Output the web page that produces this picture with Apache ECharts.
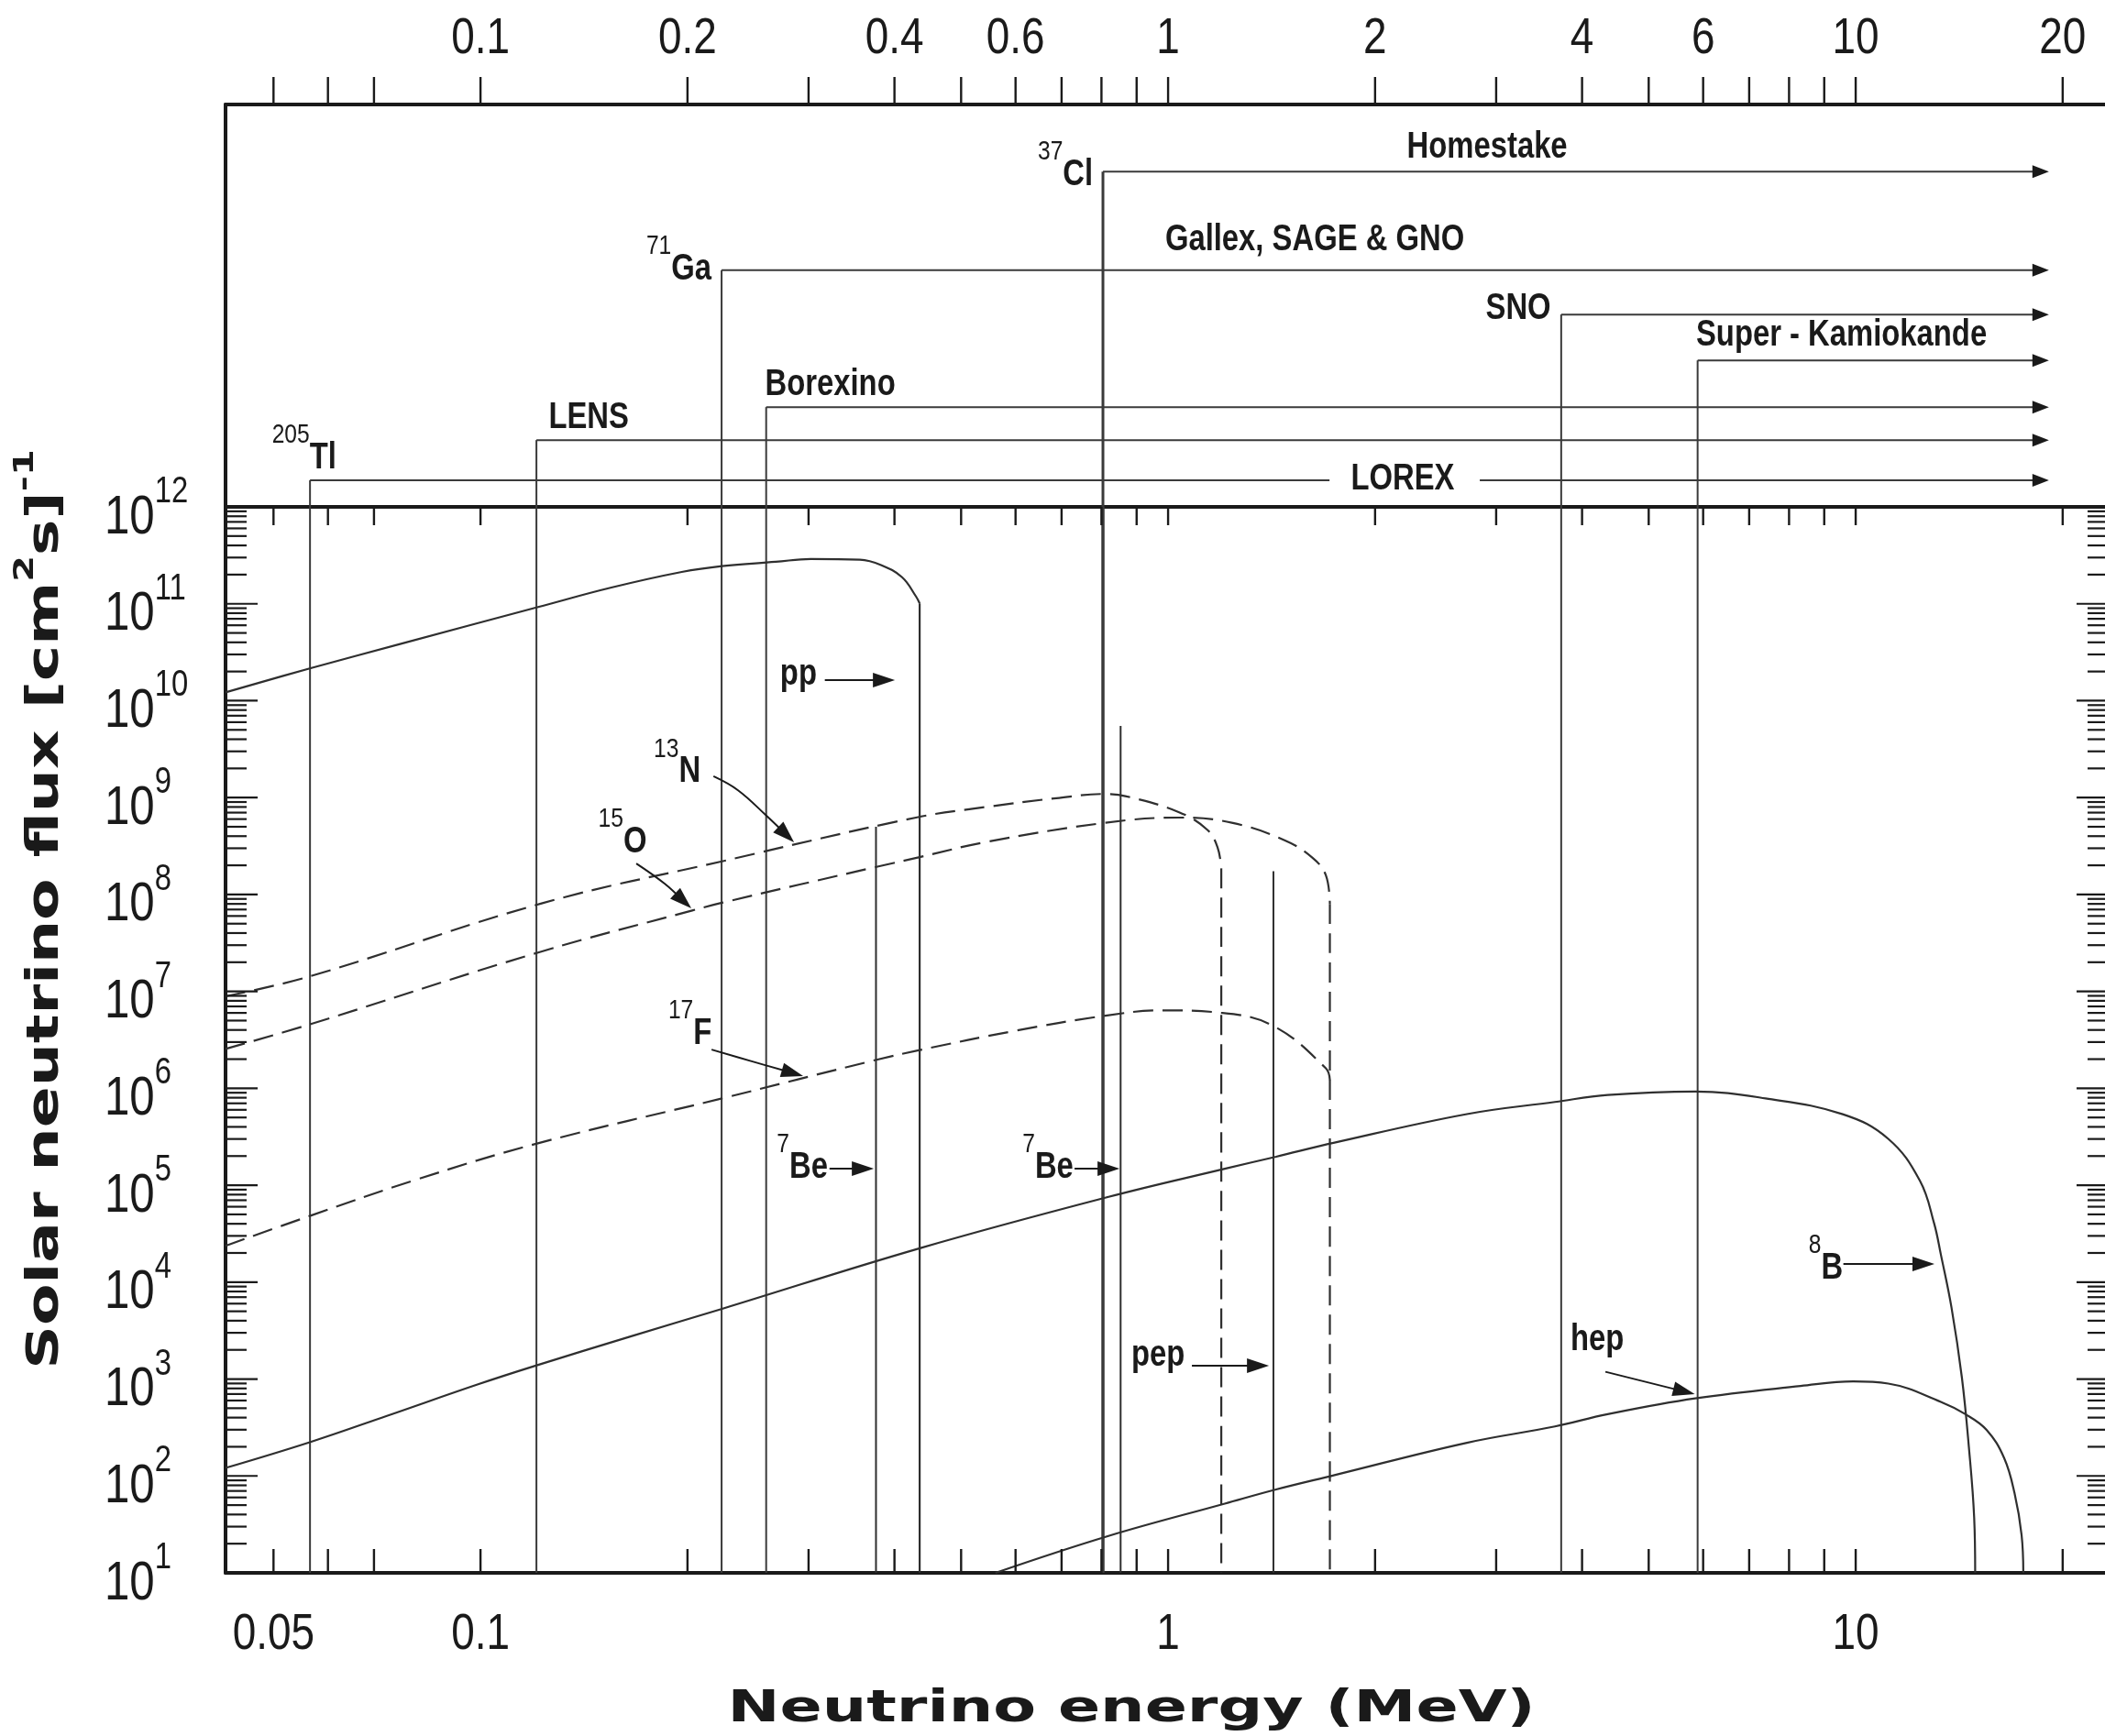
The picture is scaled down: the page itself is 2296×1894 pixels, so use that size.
<!DOCTYPE html>
<html>
<head>
<meta charset="utf-8">
<title>Solar neutrino spectrum and detector thresholds</title>
<script src="https://cdn.jsdelivr.net/npm/echarts@6.0.0/dist/echarts.min.js"></script>
<style>
  html, body { margin: 0; padding: 0; background: #ffffff; }
  #chart { width: 2296px; height: 1894px; }
</style>
</head>
<body>
<div id="chart"></div>
<script>
// ---------- axis ranges ----------
const energyRange = [0.04258, 23.33];   // neutrino energy, MeV (log)
const fluxRange = [10, 1e12];           // flux, (cm^2 s)^-1 (log)
const panelRange = [0, 100];            // detector panel rows

// ---------- ticks and tick labels ----------
const energyTicks = [0.05, 0.06, 0.07, 0.1, 0.2, 0.3, 0.4, 0.5, 0.6, 0.7, 0.8, 0.9,
                     1, 2, 3, 4, 5, 6, 7, 8, 9, 10, 20];
const topEnergyLabels = [0.1, 0.2, 0.4, 0.6, 1, 2, 4, 6, 10, 20];
const bottomEnergyLabels = [0.05, 0.1, 1, 10];
const fluxDecades = [1e1, 1e2, 1e3, 1e4, 1e5, 1e6, 1e7, 1e8, 1e9, 1e10, 1e11, 1e12];
const minorFactors = [2, 3, 4, 5, 6, 7, 8, 9];

// ---------- continuum spectra, [E (MeV), flux] ----------
const ppSpectrum = [[0.04258, 1.22e10], [0.05646, 2.15e10], [0.07661, 3.87e10], [0.1213, 9.25e10],
  [0.155, 1.47e11], [0.1962, 2.13e11], [0.2245, 2.45e11], [0.2688, 2.71e11], [0.3022, 2.9e11],
  [0.3562, 2.85e11], [0.3824, 2.51e11], [0.4103, 1.88e11], [0.4299, 1.19e11], [0.4352, 1.01e11]];
const n13Spectrum = [[0.04258, 8.9e6], [0.05646, 1.43e7], [0.1227, 8.09e7], [0.2245, 2.2e8],
  [0.4299, 6.22e8], [0.5436, 8.0e8], [0.6877, 9.86e8], [0.811, 1.09e9],
  [0.87, 1.03e9], [1.0375, 7.06e8], [1.14, 4.66e8], [1.18, 3.07e8], [1.195, 1.86e8]];
const o15Spectrum = [[0.04258, 2.55e6], [0.05646, 4.57e6], [0.1213, 2.52e7], [0.2032, 6.84e7],
  [0.2245, 8.22e7], [0.3779, 1.94e8], [0.4352, 2.43e8], [0.5436, 3.48e8],
  [0.811, 5.5e8], [1.0375, 6.22e8], [1.238, 5.5e8], [1.477, 3.63e8], [1.622, 2.39e8],
  [1.696, 1.58e8], [1.719, 8.0e7]];
const f17Spectrum = [[0.04258, 2.37e4], [0.05646, 4.82e4], [0.0803, 1.13e5], [0.1198, 2.65e5],
  [0.2245, 7.87e5], [0.3779, 1.98e6], [0.4352, 2.48e6], [0.597, 3.9e6],
  [0.811, 5.62e6], [0.9788, 6.37e6], [1.195, 6.01e6], [1.4236, 4.39e6], [1.696, 1.61e6],
  [1.719, 1.22e6]];
const b8Spectrum = [[0.04258, 121], [0.05646, 223], [0.0731, 417], [0.0992, 883], [0.1198, 1362],
  [0.1644, 2716], [0.2245, 5.3e3], [0.4365, 2.25e4],
  [0.817, 7.55e4], [1.209, 1.48e5], [1.436, 1.97e5], [1.746, 2.75e5], [2.72, 5.42e5],
  [3.653, 7.23e5], [4.358, 8.53e5], [5.845, 9.27e5], [7.393, 7.87e5], [9.574, 5.4e5],
  [11.152, 3.01e5], [12.4, 1.11e5], [13.0, 4.07e4], [13.3, 1.93e4], [13.78, 5.52e3],
  [14.27, 1040], [14.61, 197], [14.87, 37.2], [14.92, 10]];
const hepSpectrum = [[0.561, 10], [0.817, 23.9], [1.209, 51.8], [1.436, 72.6], [1.746, 102],
  [2.72, 220], [3.653, 324], [4.358, 434], [5.845, 632], [8.315, 847], [9.917, 944],
  [11.152, 897], [13.3, 582], [14.44, 434], [15.5, 299], [16.44, 153], [17.02, 66.7],
  [17.43, 24.5], [17.53, 10]];

// ---------- line sources, [E (MeV), flux] ----------
const lineSources = [[0.376, 5.0e8], [0.853, 5.5e9], [1.423, 1.74e8]];

// ---------- detector thresholds (E in MeV) and their rows in the upper panel ----------
const detectors = [
  { name: 'LOREX', threshold: 0.0565, level: 6.6, captionGap: [1.717, 2.84] },
  { name: 'LENS', threshold: 0.1206, level: 16.6 },
  { name: 'Gallex, SAGE & GNO', threshold: 0.2242, level: 58.8 },
  { name: 'Borexino', threshold: 0.2603, level: 24.8 },
  { name: 'Homestake', threshold: 0.804, level: 83.3 },
  { name: 'SNO', threshold: 3.73, level: 47.8 },
  { name: 'Super - Kamiokande', threshold: 5.89, level: 36.4 }
];
const detectorReach = 19.1;   // MeV, where the threshold arrows end

// ---------- captions ----------
const panelLabels = [
  { text: 'Homestake', at: [2.911, 89.3] },
  { text: 'Gallex, SAGE & GNO', at: [1.634, 66.3] },
  { text: 'SNO', at: [3.231, 49.3] },
  { text: 'Super - Kamiokande', at: [9.535, 42.6] },
  { text: 'Borexino', at: [0.3226, 30.2] },
  { text: 'LENS', at: [0.1437, 22.0] },
  { text: 'LOREX', at: [2.194, 6.8] },
  { sup: '37', text: 'Cl', at: [0.709, 82.5] },
  { sup: '71', text: 'Ga', at: [0.1943, 59.0] },
  { sup: '205', text: 'Tl', at: [0.0554, 12.1] }
];
const spectrumLabels = [
  { text: 'pp', at: [0.290, 1.86e10] },
  { sup: '13', text: 'N', at: [0.1932, 1.83e9] },
  { sup: '15', text: 'O', at: [0.1609, 3.49e8] },
  { sup: '17', text: 'F', at: [0.2017, 3.64e6] },
  { sup: '7', text: 'Be', at: [0.2938, 1.51e5] },
  { sup: '7', text: 'Be', at: [0.6688, 1.51e5] },
  { text: 'pep', at: [0.9668, 1746] },
  { sup: '8', text: 'B', at: [9.05, 1.38e4] },
  { text: 'hep', at: [4.207, 2523] }
];
const spectrumPointers = [
  [[0.3168, 1.63e10], [0.4006, 1.63e10]],
  [[0.2182, 1.66e9], [0.2369, 1.19e9], [0.2606, 6.49e8], [0.2858, 3.45e8]],
  [[0.1685, 2.09e8], [0.1854, 1.29e8], [0.2026, 7.2e7]],
  [[0.2168, 2.51e6], [0.248, 1.90e6], [0.2946, 1.34e6]],
  [[0.3218, 1.48e5], [0.3733, 1.48e5]],
  [[0.7311, 1.48e5], [0.850, 1.48e5]],
  [[1.083, 1371], [1.402, 1371]],
  [[9.596, 1.54e4], [13.02, 1.54e4]],
  [[4.325, 1189], [5.834, 698]]
];

// ---------- styling ----------
const INK = '#1a1a1a';
const STROKE = '#2f2f2f';
const GUIDE = '#3a3a3a';
const ARIAL = '"Liberation Sans", Arial, Helvetica, sans-serif';
const WIDE = '"DejaVu Sans", Verdana, sans-serif';
const CONDENSE = 0.82;      // horizontal squeeze for the narrow lettering
const DASH = [22, 10];

function seg(a, b, width, color, dash) {
  return {
    type: 'line',
    shape: { x1: a[0], y1: a[1], x2: b[0], y2: b[1] },
    style: { stroke: color || STROKE, lineWidth: width || 2, lineDash: dash || null }
  };
}

function arrowHead(from, tip, len, half) {
  const dx = tip[0] - from[0], dy = tip[1] - from[1];
  const L = Math.hypot(dx, dy) || 1;
  const ux = dx / L, uy = dy / L;
  const bx = tip[0] - ux * len, by = tip[1] - uy * len;
  return {
    type: 'polygon',
    shape: { points: [[tip[0], tip[1]], [bx - uy * half, by + ux * half], [bx + uy * half, by - ux * half]] },
    style: { fill: INK }
  };
}

// caption with optional raised prefix (isotope mass number)
function caption(x, y, item, size, supSize, lift) {
  if (!item.sup) {
    return {
      type: 'text', x: x, y: y, scaleX: CONDENSE,
      style: { text: item.text, fontFamily: ARIAL, fontSize: size, fontWeight: 'bold', fill: INK,
               align: 'center', verticalAlign: 'middle' }
    };
  }
  return {
    type: 'text', x: x, y: y - lift / 2, scaleX: CONDENSE,
    style: {
      text: '{s|' + item.sup + '}{m|' + item.text + '}',
      align: 'center', verticalAlign: 'middle',
      rich: {
        m: { fontFamily: ARIAL, fontSize: size, fontWeight: 'bold', fill: INK,
             padding: [lift, 0, 0, 0], verticalAlign: 'bottom' },
        s: { fontFamily: ARIAL, fontSize: supSize, fontWeight: 'normal', fill: INK, verticalAlign: 'top' }
      }
    }
  };
}

function overlay(xAxisIndex, yAxisIndex, items, anchor, draw, z) {
  return {
    type: 'custom', coordinateSystem: 'cartesian2d', xAxisIndex: xAxisIndex, yAxisIndex: yAxisIndex,
    silent: true, animation: false, clip: false, z: z || 4,
    data: items.map(anchor),
    renderItem: function (params, api) { return draw(items[params.dataIndex], api); }
  };
}

function spectrum(name, data, dashed) {
  return {
    name: name, type: 'line', xAxisIndex: 1, yAxisIndex: 1, data: data,
    symbol: 'none', showSymbol: false, smooth: 0.4, silent: true, z: 3,
    lineStyle: { color: STROKE, width: 2.2, type: dashed ? DASH : 'solid' }
  };
}
// vertical cut-off of a spectrum down to the lower axis
function cutoff(name, data, dashed) {
  const last = data[data.length - 1];
  return spectrum(name, [last, [last[0], fluxRange[0]]], dashed);
}

function energyAxis(gridIndex, position) {
  return {
    gridIndex: gridIndex, type: 'log', logBase: 10, position: position,
    min: energyRange[0], max: energyRange[1],
    axisLine: { show: true, onZero: false, lineStyle: { color: INK, width: 4 } },
    axisTick: { show: false }, axisLabel: { show: false },
    splitLine: { show: false }, minorTick: { show: false }
  };
}
function fluxAxis(position) {
  return {
    gridIndex: 1, type: 'log', logBase: 10, position: position,
    min: fluxRange[0], max: fluxRange[1],
    axisLine: { show: true, onZero: false, lineStyle: { color: INK, width: 4 } },
    axisTick: { show: false }, axisLabel: { show: false },
    splitLine: { show: false }, minorTick: { show: false }
  };
}

// flux ticks: decades are long, 2..9 multiples short
const fluxTicks = [];
fluxDecades.forEach(function (F, i) {
  fluxTicks.push({ F: F, major: true });
  if (i < fluxDecades.length - 1) minorFactors.forEach(function (m) { fluxTicks.push({ F: m * F, major: false }); });
});

const series = [
  spectrum('pp', ppSpectrum, false), cutoff('pp edge', ppSpectrum, false),
  spectrum('13N', n13Spectrum, true), cutoff('13N edge', n13Spectrum, true),
  spectrum('15O', o15Spectrum, true), cutoff('15O edge', o15Spectrum, true),
  spectrum('17F', f17Spectrum, true),
  spectrum('8B', b8Spectrum, false),
  spectrum('hep', hepSpectrum, false),

  // monoenergetic lines (7Be, pep)
  overlay(1, 1, lineSources, function (d) { return d; }, function (d, api) {
    return seg(api.coord([d[0], fluxRange[0]]), api.coord(d), 2, STROKE);
  }, 3),

  // detector thresholds through the flux panel
  overlay(1, 1, detectors, function (d) { return [d.threshold, fluxRange[0]]; }, function (d, api) {
    return seg(api.coord([d.threshold, fluxRange[0]]), api.coord([d.threshold, fluxRange[1]]),
               d.name === 'Homestake' ? 3.5 : 2, GUIDE);
  }, 2),

  // detector thresholds in the upper panel, with arrows to high energy
  overlay(0, 0, detectors, function (d) { return [d.threshold, d.level]; }, function (d, api) {
    const w = d.name === 'Homestake' ? 3 : 2;
    const base = api.coord([d.threshold, panelRange[0]]);
    const corner = api.coord([d.threshold, d.level]);
    const tip = api.coord([detectorReach, d.level]);
    const kids = [seg(base, corner, w, GUIDE)];
    if (d.captionGap) {
      kids.push(seg(corner, api.coord([d.captionGap[0], d.level]), 2, GUIDE));
      kids.push(seg(api.coord([d.captionGap[1], d.level]), [tip[0] - 10, tip[1]], 2, GUIDE));
    } else {
      kids.push(seg(corner, [tip[0] - 10, tip[1]], 2, GUIDE));
    }
    kids.push(arrowHead(corner, tip, 18, 7));
    return { type: 'group', children: kids };
  }, 3),

  // pointers from captions to spectra
  overlay(1, 1, spectrumPointers, function (p) { return p[p.length - 1]; }, function (p, api) {
    const pts = p.map(function (q) { return api.coord(q); });
    const n = pts.length;
    const tip = pts[n - 1], prev = pts[n - 2];
    const dx = tip[0] - prev[0], dy = tip[1] - prev[1], L = Math.hypot(dx, dy);
    const end = [tip[0] - dx / L * 14, tip[1] - dy / L * 14];
    const body = pts.slice(0, n - 1).concat([end]);
    return {
      type: 'group', children: [
        { type: 'polyline', shape: { points: body, smooth: n > 2 ? 0.4 : 0 },
          style: { stroke: INK, lineWidth: 2, fill: null } },
        arrowHead(prev, tip, 24, 8)
      ]
    };
  }, 5),

  // captions in the flux panel
  overlay(1, 1, spectrumLabels, function (l) { return l.at; }, function (l, api) {
    const p = api.coord(l.at);
    return caption(p[0], p[1], l, 40, 30, 20);
  }, 6),

  // captions in the detector panel
  overlay(0, 0, panelLabels, function (l) { return l.at; }, function (l, api) {
    const p = api.coord(l.at);
    return caption(p[0], p[1], l, 40, 30, 20);
  }, 6),

  // energy ticks above the detector panel
  overlay(0, 0, energyTicks, function (v) { return [v, panelRange[1]]; }, function (v, api) {
    const p = api.coord([v, panelRange[1]]);
    return seg(p, [p[0], p[1] - 30], 2.4, INK);
  }, 5),

  // energy ticks on the lower and upper edges of the flux panel
  overlay(1, 1, energyTicks, function (v) { return [v, fluxRange[0]]; }, function (v, api) {
    const b = api.coord([v, fluxRange[0]]), t = api.coord([v, fluxRange[1]]);
    return { type: 'group', children: [seg(b, [b[0], b[1] - 26], 2.4, INK), seg(t, [t[0], t[1] + 20], 2.4, INK)] };
  }, 5),

  // flux ticks on both sides
  overlay(1, 1, fluxTicks, function (t) { return [energyRange[0], t.F]; }, function (t, api) {
    const l = api.coord([energyRange[0], t.F]), r = api.coord([energyRange[1], t.F]);
    const len = t.major ? 35 : 23;
    return { type: 'group', children: [seg(l, [l[0] + len, l[1]], 2.2, INK), seg(r, [r[0] - len, r[1]], 2.2, INK)] };
  }, 5),

  // energy labels on top
  overlay(0, 0, topEnergyLabels, function (v) { return [v, panelRange[1]]; }, function (v, api) {
    const p = api.coord([v, panelRange[1]]);
    return { type: 'text', x: p[0], y: p[1] - 71, scaleX: CONDENSE,
             style: { text: String(v), fontFamily: ARIAL, fontSize: 56, fill: INK, align: 'center', verticalAlign: 'middle' } };
  }, 6),

  // energy labels below
  overlay(1, 1, bottomEnergyLabels, function (v) { return [v, fluxRange[0]]; }, function (v, api) {
    const p = api.coord([v, fluxRange[0]]);
    return { type: 'text', x: p[0], y: p[1] + 68, scaleX: CONDENSE,
             style: { text: String(v), fontFamily: ARIAL, fontSize: 56, fill: INK, align: 'center', verticalAlign: 'middle' } };
  }, 6),

  // flux labels 10^n
  overlay(1, 1, fluxDecades, function (F) { return [energyRange[0], F]; }, function (F, api) {
    const p = api.coord([energyRange[0], F]);
    const n = Math.round(Math.log10(F));
    return {
      type: 'text', x: p[0] - 132, y: p[1] + 3, scaleX: CONDENSE,
      style: {
        text: '{m|10}{s|' + n + '}', align: 'left', verticalAlign: 'middle',
        rich: {
          m: { fontFamily: ARIAL, fontSize: 60, fill: INK, padding: [18, 0, 0, 0], verticalAlign: 'bottom' },
          s: { fontFamily: ARIAL, fontSize: 40, fill: INK, verticalAlign: 'top' }
        }
      }
    };
  }, 6)
];

const option = {
  backgroundColor: '#ffffff',
  animation: false,
  grid: [
    { left: 246, top: 114, width: 2054, height: 439, outerBoundsMode: 'none' },
    { left: 246, top: 553, width: 2054, height: 1163, outerBoundsMode: 'none' }
  ],
  xAxis: [energyAxis(0, 'top'), energyAxis(1, 'bottom'), energyAxis(1, 'top')],
  yAxis: [
    { gridIndex: 0, type: 'value', min: panelRange[0], max: panelRange[1], position: 'left',
      axisLine: { show: true, onZero: false, lineStyle: { color: INK, width: 4 } },
      axisTick: { show: false }, axisLabel: { show: false }, splitLine: { show: false } },
    fluxAxis('left'),
    fluxAxis('right')
  ],
  series: series,
  graphic: [
    { type: 'text', x: 1234, y: 1866, scaleX: 1.42, silent: true,
      style: { text: 'Neutrino energy (MeV)', fontFamily: WIDE, fontWeight: 'bold', fontSize: 48,
               fill: INK, align: 'center', verticalAlign: 'middle' } },
    { type: 'text', x: 44, y: 992, rotation: Math.PI / 2, scaleX: 1.38, silent: true,
      style: {
        text: '{t|Solar neutrino flux [cm}{s|2}{t|s]}{s|-1}', align: 'center', verticalAlign: 'middle',
        rich: {
          t: { fontFamily: WIDE, fontWeight: 'bold', fontSize: 48, fill: INK, padding: [14, 0, 0, 0], verticalAlign: 'bottom' },
          s: { fontFamily: WIDE, fontWeight: 'bold', fontSize: 30, fill: INK, verticalAlign: 'top' }
        }
      } }
  ]
};

const chart = echarts.init(document.getElementById('chart'), null, { renderer: 'canvas' });
chart.setOption(option);
</script>
</body>
</html>
